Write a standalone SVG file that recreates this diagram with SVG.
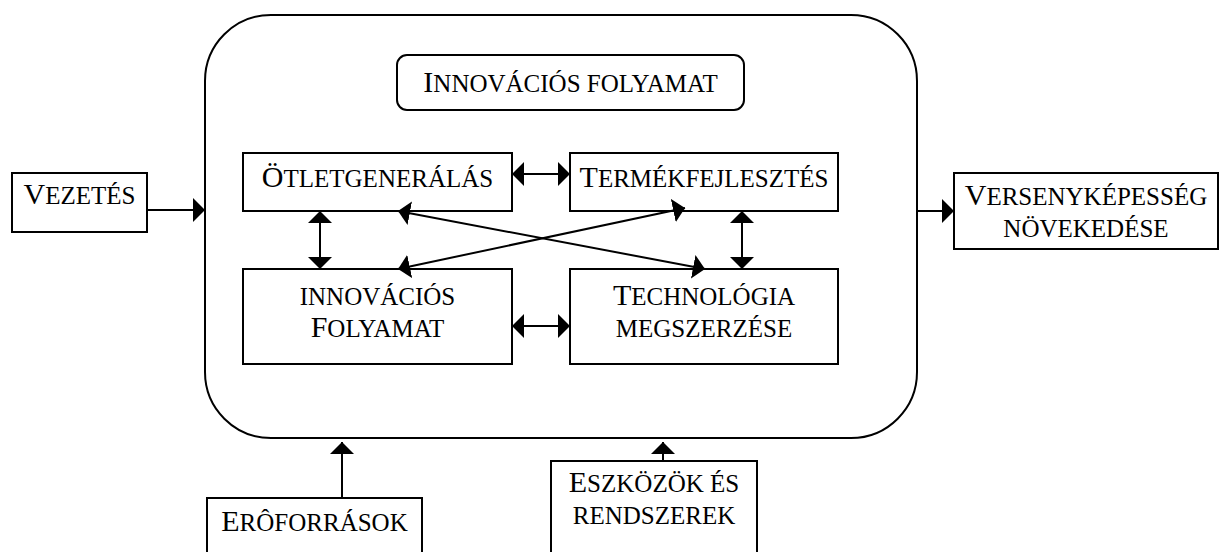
<svg xmlns="http://www.w3.org/2000/svg" width="1220" height="552" viewBox="0 0 1220 552">
<style>
.box{fill:#fff;stroke:#000;stroke-width:2}
.ln{fill:none;stroke:#000;stroke-width:2}
text{font-family:"Liberation Serif","Times New Roman",serif;fill:#000;text-anchor:middle;font-size:25px}
.c{font-size:30px}
</style>
<defs>
<marker id="ah" markerUnits="userSpaceOnUse" markerWidth="12" markerHeight="24" viewBox="0 0 12 24" refX="12" refY="12" orient="auto-start-reverse">
<path d="M0,0 L12,12 L0,24 Z" fill="#000"/>
</marker>
</defs>
<rect width="1220" height="552" fill="#fff"/>
<g id="container"><rect class="box" x="205" y="15" width="712" height="423" rx="66" ry="66"/></g>
<g id="title"><rect class="box" x="397" y="55" width="347" height="55" rx="10" ry="10"/>
<text x="570.5" y="92"><tspan class="c">I</tspan>NNOVÁCIÓS FOLYAMAT</text></g>
<g id="vezetes"><rect class="box" x="12" y="173" width="135" height="59"/>
<text x="79.5" y="204"><tspan class="c">V</tspan>EZETÉS</text></g>
<g id="otlet"><rect class="box" x="243" y="153" width="269" height="58"/>
<text x="377.5" y="187"><tspan class="c">Ö</tspan>TLETGENERÁLÁS</text></g>
<g id="termek"><rect class="box" x="570" y="153" width="268" height="58"/>
<text x="704" y="187"><tspan class="c">T</tspan>ERMÉKFEJLESZTÉS</text></g>
<g id="innov"><rect class="box" x="243" y="269" width="269" height="95"/>
<text x="377.5" y="305">INNOVÁCIÓS</text>
<text x="377.5" y="337"><tspan class="c">F</tspan>OLYAMAT</text></g>
<g id="tech"><rect class="box" x="570" y="269" width="268" height="95"/>
<text x="704" y="305"><tspan class="c">T</tspan>ECHNOLÓGIA</text>
<text x="704" y="337">MEGSZERZÉSE</text></g>
<g id="verseny"><rect class="box" x="954" y="173" width="264" height="76"/>
<text x="1086" y="205"><tspan class="c">V</tspan>ERSENYKÉPESSÉG</text>
<text x="1086" y="237">NÖVEKEDÉSE</text></g>
<g id="eroforras"><rect class="box" x="207" y="498" width="215" height="60"/>
<text x="314.5" y="531"><tspan class="c">E</tspan>RÔFORRÁSOK</text></g>
<g id="eszkozok"><rect class="box" x="551" y="461" width="206" height="97"/>
<text x="654" y="492"><tspan class="c">E</tspan>SZKÖZÖK ÉS</text>
<text x="654" y="524">RENDSZEREK</text></g>
<g id="connectors">
<line class="ln" x1="147" y1="210" x2="205" y2="210" marker-end="url(#ah)"/>
<line class="ln" x1="917" y1="211" x2="954" y2="211" marker-end="url(#ah)"/>
<line class="ln" x1="512" y1="174" x2="570" y2="174" marker-start="url(#ah)" marker-end="url(#ah)"/>
<line class="ln" x1="512" y1="326" x2="570" y2="326" marker-start="url(#ah)" marker-end="url(#ah)"/>
<line class="ln" x1="320" y1="211" x2="320" y2="269" marker-start="url(#ah)" marker-end="url(#ah)"/>
<line class="ln" x1="742" y1="211" x2="742" y2="269" marker-start="url(#ah)" marker-end="url(#ah)"/>
<line class="ln" x1="398" y1="211" x2="705" y2="269" marker-start="url(#ah)" marker-end="url(#ah)"/>
<line class="ln" x1="685" y1="208" x2="398" y2="269" marker-start="url(#ah)" marker-end="url(#ah)"/>
<line class="ln" x1="342" y1="498" x2="342" y2="442" marker-end="url(#ah)"/>
<line class="ln" x1="663" y1="461" x2="663" y2="442" marker-end="url(#ah)"/>
</g>
</svg>
